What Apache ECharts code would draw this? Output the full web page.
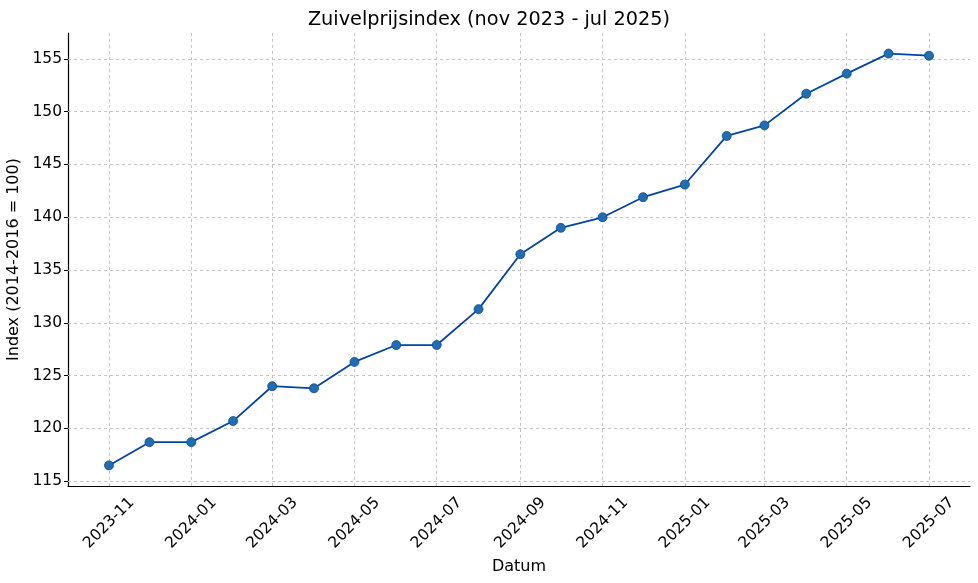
<!DOCTYPE html>
<html>
<head>
<meta charset="utf-8">
<script src="https://cdn.jsdelivr.net/npm/echarts@6/dist/echarts.min.js"></script>
<style>html,body{margin:0;padding:0;background:#fff}#c{width:978px;height:583px}</style>
</head>
<body>
<div id="c"></div>
<script>
const months = ['2023-11','2023-12','2024-01','2024-02','2024-03','2024-04','2024-05','2024-06','2024-07','2024-08','2024-09','2024-10','2024-11','2024-12','2025-01','2025-02','2025-03','2025-04','2025-05','2025-06','2025-07'];
const indexValues = [116.5,118.7,118.7,120.7,124.0,123.8,126.3,127.9,127.9,131.3,136.5,139.0,140.0,141.9,143.1,147.7,148.7,151.7,153.6,155.5,155.3];
const xTickLabels = ['2023-11','2024-01','2024-03','2024-05','2024-07','2024-09','2024-11','2025-01','2025-03','2025-05','2025-07'];
const yTickValues = [115,120,125,130,135,140,145,150,155];

function ts(s){ const p = s.split('-'); return Date.UTC(+p[0], +p[1]-1, 1); }
const xs = months.map(ts);
const xSpan = xs[xs.length-1] - xs[0];
const xMin = xs[0] - 0.05*xSpan, xMax = xs[xs.length-1] + 0.05*xSpan;
const yLo = Math.min(...indexValues), yHi = Math.max(...indexValues);
const yMin = yLo - 0.05*(yHi-yLo), yMax = yHi + 0.05*(yHi-yLo);
const xTicks = xTickLabels.map(ts);
function fmt(v){ const d = new Date(v); const m = d.getUTCMonth()+1; return d.getUTCFullYear() + '-' + (m<10?'0':'') + m; }

const font = 'DejaVu Sans';
const gridStyle = {color: '#c4c4c4', type: [3, 3], width: 1};
const gridLines = xTicks.map(v => ({xAxis: v})).concat(yTickValues.map(v => ({yAxis: v})));

const chart = echarts.init(document.getElementById('c'), null, {renderer:'canvas'});
chart.setOption({
  animation: false,
  backgroundColor: '#fff',
  title: {
    text: 'Zuivelprijsindex (nov 2023 - jul 2025)',
    left: 'center', top: 5,
    textStyle: {fontFamily: font, fontSize: 19.3, fontWeight: 'normal', color: '#000'}
  },
  grid: {left: 68, right: 8, top: 33, bottom: 97, containLabel: false, outerBoundsMode: 'none'},
  xAxis: {
    type: 'value', min: xMin, max: xMax,
    name: 'Datum', nameLocation: 'middle', nameGap: 72,
    nameTextStyle: {fontFamily: font, fontSize: 16, color: '#000'},
    axisLine: {show: true, onZero: false, lineStyle: {color: '#000', width: 1.2}},
    axisTick: {show: false, customValues: xTicks},
    axisLabel: {
      customValues: xTicks, rotate: 45, align: 'center', verticalAlign: 'middle', margin: 37,
      fontFamily: font, fontSize: 15.5, color: '#000', formatter: fmt,
      showMinLabel: true, showMaxLabel: true, hideOverlap: false
    },
    splitLine: {show: false}
  },
  yAxis: {
    type: 'value', min: yMin, max: yMax,
    name: 'Index (2014-2016 = 100)', nameLocation: 'middle', nameGap: 35, nameRotate: 90,
    nameTextStyle: {fontFamily: font, fontSize: 16, color: '#000'},
    axisLine: {show: true, onZero: false, lineStyle: {color: '#000', width: 1.2}},
    axisTick: {show: true, length: 4, customValues: yTickValues, lineStyle: {color: '#000'}},
    axisLabel: {customValues: yTickValues, margin: 6, fontFamily: font, fontSize: 15.5, color: '#000'},
    splitLine: {show: false}
  },
  series: [{
    type: 'line',
    data: [],
    silent: true,
    z: 1,
    markLine: {
      silent: true, symbol: 'none', label: {show: false},
      lineStyle: gridStyle,
      emphasis: {disabled: true},
      animation: false,
      data: gridLines
    }
  }, {
    type: 'line',
    data: xs.map((x, i) => [x, indexValues[i]]),
    symbol: 'circle', symbolSize: 9,
    lineStyle: {color: '#0044aa', width: 1.8},
    itemStyle: {color: '#1f6db4', borderColor: '#0a4a8c', borderWidth: 0.8},
    z: 5
  }]
});
</script>
</body>
</html>
